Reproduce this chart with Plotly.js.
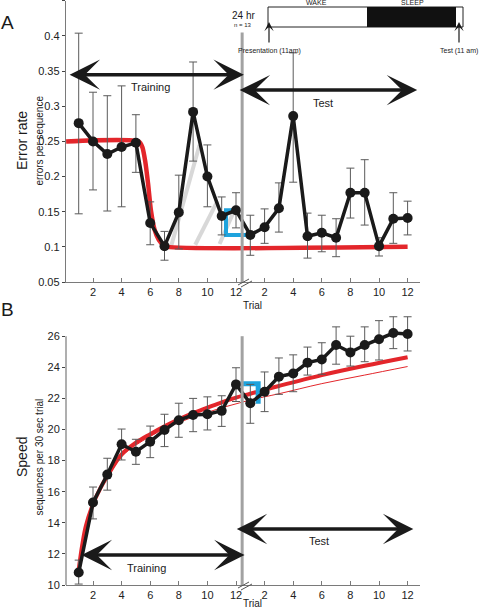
<!DOCTYPE html>
<html>
<head>
<meta charset="utf-8">
<script src="https://cdn.plot.ly/plotly-3.0.1.min.js"></script>
<style>html,body{margin:0;padding:0;background:#fff;}#plot{width:480px;height:609px;}</style>
</head>
<body>
<div id="plot"></div>
<script>
// ---------------- DATA ----------------
var trials = [1,2,3,4,5,6,7,8,9,10,11,12];
var tickVals = [2,4,6,8,10,12,14,16,18,20,22,24];
var tickText = ['2','4','6','8','10','12','2','4','6','8','10','12'];

// Panel A: error rate
var errTrain   = [0.276,0.250,0.232,0.242,0.248,0.134,0.101,0.149,0.292,0.200,0.144,0.152];
var errTrainHi = [0.404,0.320,0.315,0.329,0.288,0.164,0.122,0.202,0.363,0.245,0.171,0.177];
var errTrainLo = [0.147,0.181,0.151,0.157,0.206,0.103,0.081,0.097,0.222,0.157,0.117,0.127];
var errTest    = [0.117,0.128,0.155,0.286,0.115,0.120,0.113,0.177,0.177,0.101,0.140,0.141];
var errTestHi  = [0.145,0.154,0.191,0.376,0.148,0.145,0.140,0.212,0.224,0.113,0.177,0.165];
var errTestLo  = [0.088,0.105,0.121,0.192,0.084,0.093,0.086,0.141,0.131,0.087,0.105,0.117];
var errTicks   = [0.05,0.1,0.15,0.2,0.25,0.3,0.35,0.4,0.45];
var errTickTxt = ['0.05','0.1','0.15','0.2','0.25','0.3','0.35','0.4',''];
// model fit (red) for panel A
var fitAx = [0.12,5.2,5.45,5.65,5.85,6.05,6.3,6.6,6.9,7.2,24];
var fitAy = [0.25,0.25,0.242,0.222,0.19,0.152,0.125,0.11,0.103,0.1,0.1];
// light grey strokes, panel A
var greyAx = [7.45,9.45,null,9.15,10.7,null,10.85,11.95];
var greyAy = [0.100,0.245,null,0.103,0.165,null,0.104,0.155];
// blue bracket, panel A
var blueAx = [11.75,11.3,11.3,12.7];
var blueAy = [0.152,0.152,0.117,0.117];

// Panel B: speed
var spdTrain   = [10.8,15.3,17.1,19.05,18.57,19.22,19.97,20.6,20.93,20.98,21.2,22.9];
var spdTrainHi = [11.6,16.3,18.15,20.03,19.37,20.22,20.98,21.69,22.0,22.1,22.17,23.97];
var spdTrainLo = [10.06,14.25,16.1,18.04,17.76,18.19,18.9,19.5,19.86,19.97,20.2,21.8];
var spdTest    = [21.69,22.43,23.4,23.6,24.3,24.5,25.43,24.96,25.43,25.8,26.2,26.14];
var spdTestHi  = [22.9,23.7,24.6,24.8,25.3,25.58,26.6,26.0,26.6,27.0,27.25,27.25];
var spdTestLo  = [20.4,21.15,22.26,22.43,23.5,23.55,24.2,24.08,24.36,24.47,25.2,25.05];
var spdTicks   = [10,12,14,16,18,20,22,24,26];
// model fits (red) for panel B
var fitBx  = [1,1.25,1.5,2,2.5,3,4,5,6,7,8,9,10,11,12,13,15,18,21,24];
var fitBy  = [11.0,12.6,13.8,15.2,16.2,17.0,18.4,19.15,19.7,20.2,20.65,21.05,21.4,21.75,22.05,22.3,22.8,23.5,24.1,24.65];
var fitB2y = [10.9,12.5,13.7,15.1,16.1,16.9,18.25,19.0,19.55,20.05,20.45,20.8,21.1,21.4,21.65,21.9,22.3,22.95,23.5,24.05];
// blue bracket, panel B
var blueBx = [12.3,13.55,13.55];
var blueBy = [22.95,22.95,21.65];

var breakX = 12.43;   // position of the 24 hr divider (trial axis units)

// ---------------- HELPERS ----------------
var W = 480, H = 609;
function PX(p){ return p / W; }
function PY(p){ return 1 - p / H; }
var allX = trials.concat(trials.map(function(t){ return t + 12; }));
function diff(a, b){ return a.map(function(v, i){ return Math.abs(v - b[i]); }); }

var FONT = 'Liberation Sans, Arial, Helvetica, sans-serif';
var INK = '#1a1a1a', RED = '#e3262b', BLUE = '#1ea3dd', GREY = '#a2a2a2', AX = '#7a7a7a';

var errY = errTrain.concat(errTest);
var errHi = errTrainHi.concat(errTestHi), errLo = errTrainLo.concat(errTestLo);
var spdY = spdTrain.concat(spdTest);
var spdHi = spdTrainHi.concat(spdTestHi), spdLo = spdTrainLo.concat(spdTestLo);

var traces = [
  {x: greyAx, y: greyAy, xaxis:'x', yaxis:'y', mode:'lines', line:{color:'#d8d8d8', width:4}, connectgaps:false, hoverinfo:'skip'},
  {x: fitAx, y: fitAy, xaxis:'x', yaxis:'y', mode:'lines', line:{color:RED, width:4.5, shape:'spline', smoothing:0.6}, hoverinfo:'skip'},
  {x: blueAx, y: blueAy, xaxis:'x', yaxis:'y', mode:'lines', line:{color:BLUE, width:4}, hoverinfo:'skip'},
  {x: allX, y: errY, xaxis:'x', yaxis:'y', mode:'lines+markers',
   line:{color:INK, width:3.5}, marker:{color:INK, size:10},
   error_y:{type:'data', symmetric:false, array: diff(errHi, errY), arrayminus: diff(errY, errLo), color:'#5a5a5a', thickness:1, width:4}},

  {x: fitBx, y: fitB2y, xaxis:'x2', yaxis:'y2', mode:'lines', line:{color:RED, width:1, shape:'spline'}, hoverinfo:'skip'},
  {x: fitBx, y: fitBy, xaxis:'x2', yaxis:'y2', mode:'lines', line:{color:RED, width:4, shape:'spline'}, hoverinfo:'skip'},
  {x: blueBx, y: blueBy, xaxis:'x2', yaxis:'y2', mode:'lines', line:{color:BLUE, width:5}, hoverinfo:'skip'},
  {x: allX, y: spdY, xaxis:'x2', yaxis:'y2', mode:'lines+markers',
   line:{color:INK, width:3.5}, marker:{color:INK, size:10},
   error_y:{type:'data', symmetric:false, array: diff(spdHi, spdY), arrayminus: diff(spdY, spdLo), color:'#5a5a5a', thickness:1, width:4}}
];

var xr = [1 + (66 - 78.7)/14.3, 1 + (420 - 78.7)/14.3];
function xAxis(anchor){
  return {domain:[PX(66), PX(420)], range: xr, anchor: anchor, tickmode:'array', tickvals: tickVals, ticktext: tickText,
    ticks:'inside', ticklen:4, tickcolor:AX, showline:true, linecolor:AX, linewidth:1.2, showgrid:false, zeroline:false,
    tickfont:{family:FONT, size:11, color:'#222'}, automargin:false, fixedrange:true};
}
var yA0 = 282, yB0 = 585;
var layout = {
  width: W, height: H, margin:{l:0, r:0, t:0, b:0}, showlegend:false,
  paper_bgcolor:'#fff', plot_bgcolor:'rgba(0,0,0,0)',
  xaxis: xAxis('y'),
  xaxis2: xAxis('y2'),
  yaxis: {domain:[PY(yA0), PY(yA0 - 0.40*702.9)], range:[0.05, 0.45], anchor:'x', tickmode:'array', tickvals: errTicks, ticktext: errTickTxt,
    ticks:'outside', ticklen:3, tickcolor:'#444', showline:true, linecolor:AX, linewidth:1.2, showgrid:false, zeroline:false,
    tickfont:{family:FONT, size:11, color:'#222'}, automargin:false, fixedrange:true},
  yaxis2: {domain:[PY(yB0), PY(yB0 - 17.5*15.55)], range:[10, 27.5], anchor:'x2', tickmode:'array', tickvals: spdTicks,
    ticks:'outside', ticklen:3, tickcolor:'#444', showline:false, showgrid:false, zeroline:false,
    tickfont:{family:FONT, size:11, color:'#222'}, automargin:false, fixedrange:true},
  shapes: [
    // 24 hr divider lines
    {type:'line', xref:'x', yref:'y', x0:breakX, x1:breakX, y0:0.05, y1:0.405, line:{color:GREY, width:3}},
    {type:'line', xref:'x2', yref:'y2', x0:breakX, x1:breakX, y0:10, y1:26, line:{color:GREY, width:3}},
    // B y-axis line (only up to 26)
    {type:'line', xref:'paper', yref:'y2', x0:PX(66), x1:PX(66), y0:10, y1:26, line:{color:AX, width:1.2}},
    // axis break marks
    {type:'line', xref:'paper', yref:'paper', x0:PX(238), y0:PY(285), x1:PX(249), y1:PY(279), line:{color:'#555', width:1}},
    {type:'line', xref:'paper', yref:'paper', x0:PX(241), y0:PY(287), x1:PX(252), y1:PY(281), line:{color:'#555', width:1}},
    {type:'line', xref:'paper', yref:'paper', x0:PX(238), y0:PY(588), x1:PX(249), y1:PY(582), line:{color:'#555', width:1}},
    {type:'line', xref:'paper', yref:'paper', x0:PX(241), y0:PY(590), x1:PX(252), y1:PY(584), line:{color:'#555', width:1}},
    // wake / sleep timeline
    {type:'rect', xref:'paper', yref:'paper', x0:PX(268), x1:PX(463), y0:PY(27), y1:PY(7), line:{color:'#222', width:1}, fillcolor:'#fff'},
    {type:'rect', xref:'paper', yref:'paper', x0:PX(367), x1:PX(456), y0:PY(27), y1:PY(7), line:{width:0}, fillcolor:'#111'}
  ],
  annotations: []
};

function txt(x, y, s, size, opts){
  var a = {xref:'paper', yref:'paper', x:PX(x), y:PY(y), text:s, showarrow:false, xanchor:'center', yanchor:'middle',
    font:{family:FONT, size:size, color:'#1a1a1a'}};
  for (var k in (opts||{})) a[k] = opts[k];
  layout.annotations.push(a);
}
function dblArrow(xa, ya, x0, x1, y){
  layout.annotations.push({xref:xa, yref:ya, axref:xa, ayref:ya, x:x1, y:y, ax:x0, ay:y, text:'', showarrow:true,
    arrowhead:3, startarrowhead:3, arrowside:'end+start', arrowsize:1.45, startarrowsize:1.45, arrowwidth:3.5, arrowcolor:INK, standoff:0, startstandoff:0});
}

// panel letters
txt(7, 23, 'A', 19);
txt(7, 309, 'B', 19);
// y titles
txt(22, 141, 'Error rate', 14, {textangle:-90});
txt(38.5, 141, 'errors per sequence', 10, {textangle:-90});
txt(22, 457, 'Speed', 14, {textangle:-90});
txt(38.5, 457, 'sequences per 30 sec trial', 10, {textangle:-90});
// x titles
txt(252, 305, 'Trial', 10);
txt(252, 603, 'Trial', 10);
// arrows & labels panel A
dblArrow('x', 'y', 0.26, 12.55, 0.345);
txt(150, 87, 'Training', 11);
dblArrow('x', 'y', 12.15, 24.67, 0.323);
txt(323, 103, 'Test', 11);
// arrows & labels panel B
dblArrow('x2', 'y2', 1.1, 12.6, 11.93);
txt(146, 568, 'Training', 11);
dblArrow('x2', 'y2', 11.95, 24.4, 13.6);
txt(319, 541, 'Test', 11);
// 24 hr header & timeline labels
txt(243, 16, '24 hr', 10);
txt(243, 25, 'n = 13', 6);
txt(316, 3, 'WAKE', 7);
txt(412, 3, 'SLEEP', 7);
txt(269, 51, 'Presentation (11am)', 7);
txt(459, 51, 'Test (11 am)', 7);
layout.annotations.push({xref:'paper', yref:'paper', axref:'paper', ayref:'paper', x:PX(269), y:PY(22), ax:PX(269), ay:PY(44), text:'', showarrow:true, arrowhead:3, arrowsize:1.3, arrowwidth:1.2, arrowcolor:INK, standoff:0});
layout.annotations.push({xref:'paper', yref:'paper', axref:'paper', ayref:'paper', x:PX(459), y:PY(22), ax:PX(459), ay:PY(44), text:'', showarrow:true, arrowhead:3, arrowsize:1.3, arrowwidth:1.2, arrowcolor:INK, standoff:0});

Plotly.newPlot('plot', traces, layout, {displayModeBar:false, staticPlot:true});
</script>
</body>
</html>
